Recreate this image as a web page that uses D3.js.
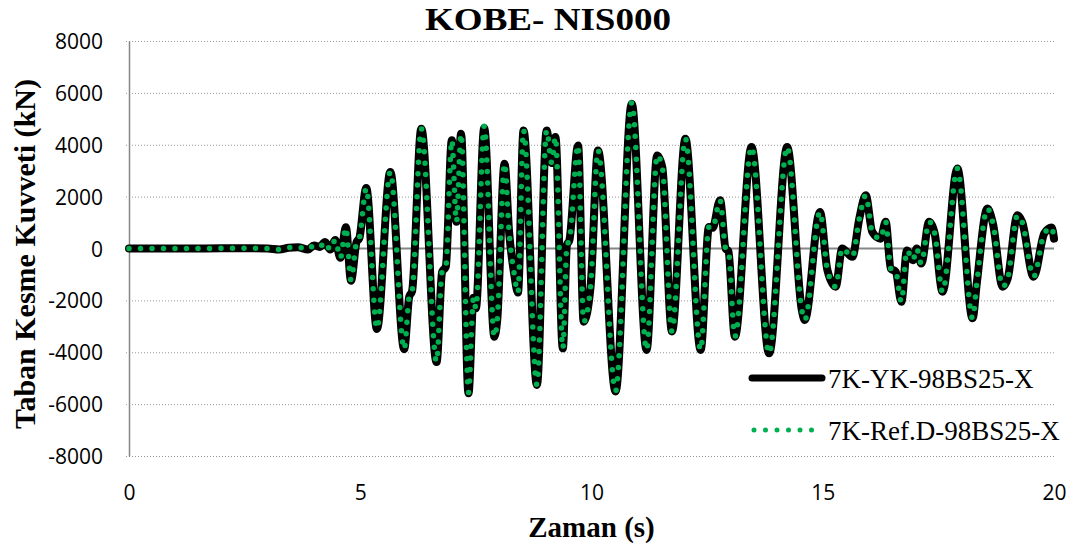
<!DOCTYPE html>
<html>
<head>
<meta charset="utf-8">
<script src="https://cdn.jsdelivr.net/npm/d3@7"></script>
<style>
  html, body { margin: 0; padding: 0; background: #fff; }
  svg { display: block; }
</style>
</head>
<body>
<svg id="chart" width="1079" height="544"></svg>
<script>
// Base shear time history, KOBE NIS000 record
const title = "KOBE- NIS000";
const xTitle = "Zaman (s)";
const yTitle = "Taban Kesme Kuvveti (kN)";
const seriesNames = ["7K-YK-98BS25-X", "7K-Ref.D-98BS25-X"];
const xTicks = [0, 5, 10, 15, 20];
const yTicks = [-8000, -6000, -4000, -2000, 0, 2000, 4000, 6000, 8000];

// time (s) of each turning point of the response
const times = [
  0, 1.5, 2.5, 3.0, 3.25, 3.45, 3.65, 3.87, 4.0, 4.12, 4.24, 4.35, 4.46, 4.57,
  4.69, 4.80, 4.92, 4.98, 5.13, 5.36, 5.65, 5.95, 6.06, 6.12, 6.32, 6.65,
  6.77, 6.85, 6.98, 7.08, 7.18, 7.34, 7.45, 7.50, 7.68, 7.90, 7.96, 8.12,
  8.22, 8.33, 8.41, 8.53, 8.82, 9.03, 9.14, 9.22, 9.38, 9.47, 9.52, 9.71,
  9.83, 9.98, 10.14, 10.52, 10.87, 11.19, 11.42, 11.53, 11.74, 12.03, 12.36,
  12.54, 12.62, 12.78, 12.90, 12.96, 13.10, 13.46, 13.84, 14.23, 14.55,
  14.61, 14.94, 15.10, 15.28, 15.42, 15.64, 15.79, 15.93, 16.07, 16.25,
  16.36, 16.47, 16.58, 16.70, 16.82, 16.95, 17.03, 17.13, 17.30, 17.42,
  17.59, 17.91, 18.24, 18.33, 18.56, 18.68, 18.89, 19.00, 19.21, 19.31,
  19.56, 19.79, 19.95, 20.0
];

// base shear (kN), 7K-YK-98BS25-X
const ykValues = [
  0, 0, 10, 0, -40, 30, 50, -40, 120, 60, 250, -40, 330, -360,
  820, -1240, 250, 400, 2330, -3100, 2950, -3880, -1850, -1650, 4620, -4380,
  -900, -700, 4170, 1030, 4420, -5580, -1900, -2300, 4650, -3400, -2800, 3270,
  600, -1000, -1700, 4550, -5260, 4550, 3300, 4300, -3850, 150, 300, 3970,
  -2820, -1470, 3780, -5510, 5580, -3910, 3590, 3140, -3200, 4230, -3910,
  830, 800, 1860, 0, -100, -3400, 3910, -4040, 3910, -2400,
  -2760, 1410, -830, -1470, 0, -320, 1150, 2050, 640, 380,
  1030, -770, -900, -2050, -80, -450, 0, -580, 1030, 580,
  -1670, 3080, -2690, -1350, 1540, 960, -1470, -1150, 1280, 1030,
  -1090, 580, 810, 380
];

// base shear (kN), 7K-Ref.D-98BS25-X
const refValues = [
  0, 0, 10, 0, -40, 30, 50, -40, 120, 60, 250, -40, 330, -360,
  800, -1220, 250, 400, 2320, -3080, 2950, -3880, -1850, -1650, 4620, -4360,
  -900, -700, 4170, 1030, 4420, -5560, -1900, -2300, 4720, -3400, -2800, 3270,
  600, -1000, -1700, 4550, -5260, 4550, 3300, 4300, -3850, 150, 300, 3970,
  -2820, -1470, 3780, -5500, 5620, -3910, 3590, 3140, -3200, 4230, -3910,
  830, 800, 1860, 0, -100, -3400, 3910, -4040, 3910, -2400,
  -2760, 1410, -830, -1470, 0, -320, 1150, 2050, 640, 380,
  1030, -770, -900, -2050, -80, -450, 0, -580, 1030, 580,
  -1670, 3080, -2690, -1350, 1540, 960, -1470, -1150, 1280, 1030,
  -1090, 580, 810, 380
];

const svg = d3.select("#chart");
const W = 1079, H = 544;
const plot = { left: 129, right: 1054, top: 41, bottom: 456 };

svg.append("rect").attr("width", W).attr("height", H).attr("fill", "#fff");

const x = d3.scaleLinear().domain([0, 20]).range([plot.left, plot.right]);
const y = d3.scaleLinear().domain([-8000, 8000]).range([plot.bottom, plot.top]);

const serif = "'Liberation Serif', 'Times New Roman', serif";
const sans = "'Open Sans', 'Liberation Sans', sans-serif";
const plainNumber = d => String(d);

// horizontal gridlines
svg.append("g")
  .selectAll("line")
  .data(yTicks.filter(d => d !== 0))
  .join("line")
  .attr("x1", plot.left - 3)
  .attr("x2", plot.right)
  .attr("y1", d => y(d) + 0.5)
  .attr("y2", d => y(d) + 0.5)
  .attr("stroke", "#999")
  .attr("stroke-width", 1)
  .attr("stroke-dasharray", "1 2");

// y axis with labels
const yAxis = d3.axisLeft(y).tickValues(yTicks).tickSize(0).tickPadding(0).tickFormat(plainNumber);
const gy = svg.append("g").attr("transform", `translate(${plot.left},0)`).call(yAxis);
gy.select(".domain").attr("stroke", "#868686").attr("stroke-width", 1.5);
gy.selectAll("text")
  .attr("x", 103 - plot.left)
  .attr("dy", "0.36em")
  .attr("font-family", sans)
  .attr("font-size", 21)
  .attr("fill", "#000");

// zero line (category axis)
svg.append("line")
  .attr("x1", plot.left).attr("x2", plot.right)
  .attr("y1", y(0)).attr("y2", y(0))
  .attr("stroke", "#868686").attr("stroke-width", 2);

// x tick labels along the bottom
const xAxis = d3.axisBottom(x).tickValues(xTicks).tickSize(0).tickPadding(0).tickFormat(plainNumber);
const gx = svg.append("g").attr("transform", `translate(0,${plot.bottom})`).call(xAxis);
gx.select(".domain").remove();
gx.selectAll("text")
  .attr("y", 44)
  .attr("dy", 0)
  .attr("font-family", sans)
  .attr("font-size", 21)
  .attr("fill", "#000");

// series lines
const data = times.map((t, i) => ({ t, yk: ykValues[i], ref: refValues[i] }));
const lineYK = d3.line().x(d => x(d.t)).y(d => y(d.yk)).curve(d3.curveMonotoneX);
const lineRef = d3.line().x(d => x(d.t)).y(d => y(d.ref)).curve(d3.curveMonotoneX);

svg.append("path")
  .datum(data)
  .attr("d", lineYK)
  .attr("fill", "none")
  .attr("stroke", "#000")
  .attr("stroke-width", 8)
  .attr("stroke-linejoin", "round")
  .attr("stroke-linecap", "round");

svg.append("path")
  .datum(data)
  .attr("d", lineRef)
  .attr("fill", "none")
  .attr("stroke", "#00b050")
  .attr("stroke-width", 5.5)
  .attr("stroke-dasharray", "0 11.5")
  .attr("stroke-linecap", "round");

// title and axis titles
svg.append("text")
  .attr("x", 548).attr("y", 30)
  .attr("text-anchor", "middle")
  .attr("font-family", serif).attr("font-weight", "bold").attr("font-size", 32)
  .attr("textLength", 246).attr("lengthAdjust", "spacingAndGlyphs")
  .text(title);

svg.append("text")
  .attr("x", (plot.left + plot.right) / 2).attr("y", 537)
  .attr("text-anchor", "middle")
  .attr("font-family", serif).attr("font-weight", "bold").attr("font-size", 29)
  .text(xTitle);

svg.append("text")
  .attr("transform", "translate(35,254) rotate(-90)")
  .attr("text-anchor", "middle")
  .attr("font-family", serif).attr("font-weight", "bold").attr("font-size", 30)
  .text(yTitle);

// legend
const legend = svg.append("g");
legend.append("line")
  .attr("x1", 752).attr("x2", 822).attr("y1", 378).attr("y2", 378)
  .attr("stroke", "#000").attr("stroke-width", 7).attr("stroke-linecap", "round");
legend.append("line")
  .attr("x1", 754).attr("x2", 812).attr("y1", 430).attr("y2", 430)
  .attr("stroke", "#00b050").attr("stroke-width", 5)
  .attr("stroke-dasharray", "0 11.5").attr("stroke-linecap", "round");
legend.selectAll("text.leg")
  .data(seriesNames)
  .join("text")
  .attr("class", "leg")
  .attr("x", 828)
  .attr("y", (d, i) => 388 + i * 52)
  .attr("font-family", serif).attr("font-size", 27)
  .attr("fill", "#000")
  .text(d => d);
</script>
</body>
</html>
